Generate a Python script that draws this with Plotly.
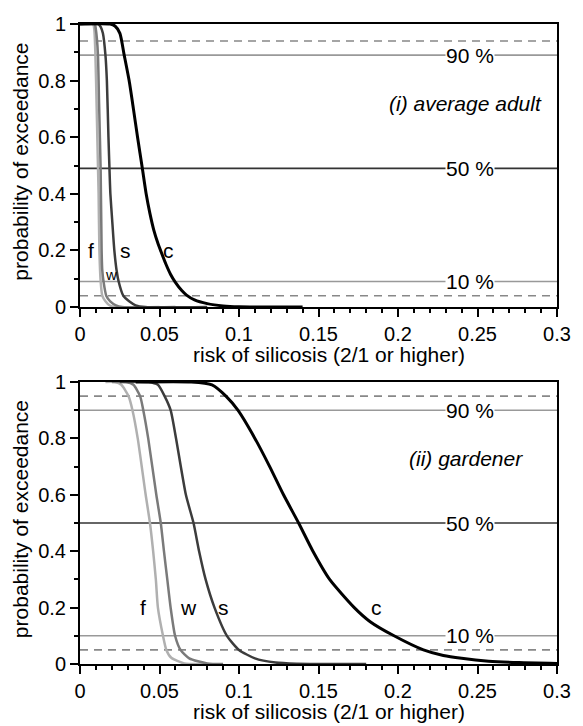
import plotly.graph_objects as go
from plotly.subplots import make_subplots

# ---------------- data: panel (i) average adult ----------------
x_f_i = [0, 0.0082, 0.0090, 0.0097, 0.0105, 0.0112, 0.0117, 0.0122, 0.0130, 0.0140, 0.0160, 0.0185, 0.0216, 0.050]
p_f_i = [1, 1, 0.98, 0.89, 0.70, 0.52, 0.40, 0.20, 0.09, 0.04, 0.02, 0.006, 0, 0]
x_w_i = [0, 0.0092, 0.0100, 0.0106, 0.0113, 0.0120, 0.0130, 0.0136, 0.0140, 0.0148, 0.0165, 0.0190, 0.0226, 0.0265, 0.060]
p_w_i = [1, 1, 0.98, 0.95, 0.89, 0.72, 0.48, 0.20, 0.13, 0.09, 0.04, 0.02, 0.006, 0, 0]
x_s_i = [0, 0.0115, 0.0130, 0.0144, 0.0160, 0.0169, 0.0179, 0.0187, 0.0191, 0.0202, 0.0216, 0.0230, 0.0243, 0.0272, 0.0309, 0.0350, 0.0410, 0.080]
p_s_i = [1, 1, 0.99, 0.967, 0.89, 0.80, 0.60, 0.46, 0.40, 0.31, 0.20, 0.13, 0.09, 0.04, 0.02, 0.006, 0, 0]
x_c_i = [0, 0.019, 0.022, 0.0251, 0.0278, 0.0309, 0.0336, 0.0362, 0.0392, 0.0416, 0.0440, 0.0465, 0.0490, 0.0510, 0.0540, 0.0570, 0.0600, 0.0640, 0.0670, 0.0720, 0.0800, 0.0900, 0.1000, 0.1400]
p_c_i = [1, 1, 0.993, 0.967, 0.89, 0.80, 0.70, 0.60, 0.49, 0.40, 0.33, 0.27, 0.225, 0.195, 0.152, 0.115, 0.087, 0.058, 0.042, 0.025, 0.012, 0.004, 0.001, 0]

# ---------------- data: panel (ii) gardener ----------------
x_f_ii = [0.016, 0.022, 0.026, 0.0305, 0.033, 0.0363, 0.0413, 0.044, 0.046, 0.0477, 0.049, 0.0522, 0.0543, 0.0574, 0.0656, 0.080]
p_f_ii = [1, 1, 0.99, 0.95, 0.90, 0.80, 0.60, 0.50, 0.40, 0.30, 0.20, 0.10, 0.05, 0.022, 0.002, 0]
x_w_ii = [0.020, 0.029, 0.0336, 0.0378, 0.0398, 0.0429, 0.048, 0.0508, 0.0528, 0.0549, 0.057, 0.0598, 0.0632, 0.0687, 0.080, 0.090]
p_w_ii = [1, 1, 0.99, 0.95, 0.90, 0.80, 0.60, 0.50, 0.40, 0.30, 0.20, 0.10, 0.05, 0.02, 0.002, 0]
x_s_ii = [0.025, 0.043, 0.049, 0.0532, 0.057, 0.0604, 0.0666, 0.0714, 0.0749, 0.079, 0.0846, 0.0924, 0.100, 0.110, 0.123, 0.136, 0.180]
p_s_ii = [1, 1, 0.99, 0.95, 0.90, 0.80, 0.60, 0.50, 0.40, 0.30, 0.20, 0.10, 0.05, 0.02, 0.005, 0.001, 0]
x_c_ii = [0.035, 0.070, 0.083, 0.0918, 0.0993, 0.110, 0.1193, 0.128, 0.1375, 0.1465, 0.157, 0.1725, 0.1825, 0.1975, 0.216, 0.2285, 0.240, 0.257, 0.276, 0.300]
p_c_ii = [1, 1, 0.99, 0.95, 0.90, 0.80, 0.70, 0.60, 0.50, 0.40, 0.30, 0.20, 0.15, 0.10, 0.05, 0.03, 0.02, 0.01, 0.005, 0.002]

series_names = ["f", "w", "s", "c"]
series_colors = ["#b0b0b0", "#7a7a7a", "#3c3c3c", "#000000"]
series_widths = [2.5, 2.5, 2.5, 3]

# curve label positions (x, p)
lab_x_i = [0.0072, 0.0196, 0.0288, 0.0556]
lab_p_i = [0.20, 0.115, 0.20, 0.20]
lab_x_ii = [0.0398, 0.068, 0.0904, 0.1864]
lab_p_ii = [0.20, 0.20, 0.20, 0.20]

# reference levels: dashed upper, 90%, 50%, 10%, dashed lower
ref_i = [0.94, 0.89, 0.49, 0.09, 0.04]
ref_ii = [0.95, 0.90, 0.50, 0.10, 0.05]
ref_labels = [None, "90 %", "50 %", "10 %", None]
ref_colors = ["#888888", "#999999", "#333333", "#999999", "#888888"]
ref_dash = ["8px,6px", "solid", "solid", "solid", "8px,6px"]
ref_label_x = 0.245

panel_titles = ["(i) average adult", "(ii) gardener"]
panel_title_p = [0.72, 0.73]
panel_title_x = 0.2425

x_title = "risk of silicosis (2/1 or higher)"
y_title = "probability of exceedance"
x_tickvals = [0, 0.05, 0.1, 0.15, 0.2, 0.25, 0.3]
x_ticktext = ["0", "0.05", "0.1", "0.15", "0.2", "0.25", "0.3"]
y_tickvals = [0, 0.2, 0.4, 0.6, 0.8, 1]
y_ticktext = ["0", "0.2", "0.4", "0.6", "0.8", "1"]

FONT = "Liberation Sans, Arial, Helvetica, sans-serif"
FS_TICK = 20
FS = 21

W, H = 583, 726
ML, MR, MT, MB = 80, 17, 24, 62
PW, PH = W - ML - MR, H - MT - MB


def px_to_paper_y(py):
    return (H - MB - py) / PH


def px_to_paper_x(px):
    return (px - ML) / PW


fig = make_subplots(rows=2, cols=1, vertical_spacing=0.1)

panels = [
    (1, [(x_f_i, p_f_i), (x_w_i, p_w_i), (x_s_i, p_s_i), (x_c_i, p_c_i)], lab_x_i, lab_p_i, ref_i),
    (2, [(x_f_ii, p_f_ii), (x_w_ii, p_w_ii), (x_s_ii, p_s_ii), (x_c_ii, p_c_ii)], lab_x_ii, lab_p_ii, ref_ii),
]

for row, curves, lx, lp, refs in panels:
    xref = "x" if row == 1 else "x2"
    yref = "y" if row == 1 else "y2"
    for lvl, col, dsh, lab in zip(refs, ref_colors, ref_dash, ref_labels):
        fig.add_shape(type="line", xref=xref + " domain", yref=yref, x0=0, x1=1, y0=lvl, y1=lvl,
                      line=dict(color=col, width=1.6, dash=dsh), layer="below")
        if lab:
            fig.add_annotation(x=ref_label_x, y=lvl, xref=xref, yref=yref, text=lab, showarrow=False,
                               bgcolor="white", borderpad=0,
                               font=dict(family=FONT, size=FS, color="black"))
    for (xs, ps), name, col, w in zip(curves, series_names, series_colors, series_widths):
        fig.add_trace(go.Scatter(x=xs, y=ps, mode="lines", name=name,
                                 line=dict(color=col, width=w, shape="spline", smoothing=0.6),
                                 showlegend=False),
                      row=row, col=1)
    for name, x, p in zip(series_names, lx, lp):
        size = 15 if (row == 1 and name == "w") else FS
        fig.add_annotation(x=x, y=p, xref=xref, yref=yref, text=name, showarrow=False,
                           font=dict(family=FONT, size=size, color="black"))
    fig.add_annotation(x=panel_title_x, y=panel_title_p[row - 1], xref=xref, yref=yref,
                       text="<i>" + panel_titles[row - 1] + "</i>", showarrow=False,
                       font=dict(family=FONT, size=FS, color="black"))

# axis titles as paper annotations
for py in (354, 711):
    fig.add_annotation(x=px_to_paper_x(334), y=px_to_paper_y(py), xref="paper", yref="paper",
                       text=x_title, showarrow=False, xanchor="center", yanchor="middle",
                       font=dict(family=FONT, size=FS, color="black"))
for py in (161.5, 519):
    fig.add_annotation(x=px_to_paper_x(19), y=px_to_paper_y(py), xref="paper", yref="paper",
                       text=y_title, showarrow=False, textangle=-90, xanchor="center", yanchor="middle",
                       font=dict(family=FONT, size=FS, color="black"))

axis_common = dict(showline=True, linecolor="black", linewidth=2, mirror=True,
                   ticks="outside", ticklen=8, tickwidth=2, tickcolor="black",
                   showgrid=False, zeroline=False,
                   tickfont=dict(family=FONT, size=FS_TICK, color="black"))

for r in (1, 2):
    fig.update_xaxes(range=[0, 0.3], tickvals=x_tickvals, ticktext=x_ticktext,
                     minor=dict(dtick=0.01, tick0=0, ticks="outside", ticklen=4, tickwidth=1.5, tickcolor="black"),
                     row=r, col=1, **axis_common)
    fig.update_yaxes(range=[0, 1], tickvals=y_tickvals, ticktext=y_ticktext,
                     minor=dict(dtick=0.1, tick0=0, ticks="outside", ticklen=4, tickwidth=1.5, tickcolor="black"),
                     row=r, col=1, **axis_common)

fig.update_layout(
    width=W, height=H,
    margin=dict(l=ML, r=MR, t=MT, b=MB),
    paper_bgcolor="white", plot_bgcolor="white",
    font=dict(family=FONT, size=FS, color="black"),
)
fig.layout.yaxis.domain = [px_to_paper_y(307), 1.0]
fig.layout.yaxis2.domain = [0.0, px_to_paper_y(382)]

fig.write_html("out.html")
